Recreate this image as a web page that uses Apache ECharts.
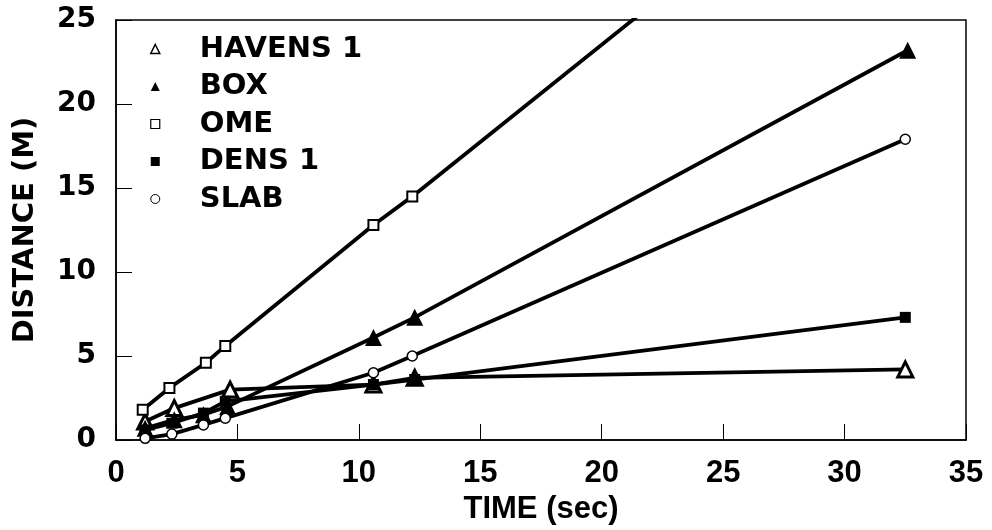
<!DOCTYPE html>
<html>
<head>
<meta charset="utf-8">
<script src="https://cdn.jsdelivr.net/npm/echarts@6/dist/echarts.min.js"></script>
<style>html,body{margin:0;padding:0;background:#fff}#c{width:992px;height:530px}</style>
</head>
<body>
<div id="c"></div>
<script>
// Data: [time (sec), distance (m)]
const seriesNames = ['HAVENS 1', 'BOX', 'OME', 'DENS 1', 'SLAB'];
const havens1 = [[1.2, 1.1], [2.4, 1.9], [4.7, 3.0], [10.6, 3.3], [12.3, 3.7], [32.5, 4.2]];
const box = [[1.2, 0.7], [2.4, 1.2], [3.6, 1.5], [4.6, 2.0], [10.6, 6.1], [12.3, 7.3], [32.6, 23.2]];
const ome = [[1.1, 1.8], [2.2, 3.1], [3.7, 4.6], [4.5, 5.6], [10.6, 12.8], [12.2, 14.5], [32.5, 38.0]];
const dens1 = [[1.2, 0.6], [2.3, 1.0], [3.6, 1.6], [4.5, 2.3], [10.6, 3.3], [12.3, 3.6], [32.5, 7.3]];
const slab = [[1.2, 0.1], [2.3, 0.35], [3.6, 0.9], [4.5, 1.3], [10.6, 4.0], [12.2, 5.0], [32.5, 17.9]];
const xTicks = [0, 5, 10, 15, 20, 25, 30, 35];
const yTicks = [0, 5, 10, 15, 20, 25];

const boldFont = 'DejaVu Sans';
const narrowFont = '"Liberation Sans Narrow", "Liberation Sans", Arial, sans-serif';

function mk(name, data, symbol, size, filled, bw) {
  return {
    name: name, type: 'line', data: data, symbol: symbol, symbolSize: size,
    showAllSymbol: true, clip: true,
    lineStyle: { color: '#000', width: 3.8 },
    itemStyle: { color: filled ? '#000' : '#fff', borderColor: '#000', borderWidth: bw },
    emphasis: { disabled: true }
  };
}

const chart = echarts.init(document.getElementById('c'), null, { renderer: 'canvas' });
chart.setOption({
  animation: false,
  backgroundColor: '#fff',
  grid: { left: 116, right: 26, top: 20, bottom: 84, show: true, borderColor: '#000', borderWidth: 1.5, backgroundColor: 'transparent' },
  legend: {
    orient: 'vertical', left: 150, top: 34, padding: 0, itemGap: 7.5,
    itemWidth: 9, itemHeight: 9,
    textStyle: { fontFamily: boldFont, fontWeight: 'bold', fontSize: 29, color: '#000', lineHeight: 30, padding: [0, 0, 0, 35] },
    data: [
      { name: 'HAVENS 1', icon: 'triangle', itemStyle: { color: '#fff', borderColor: '#000', borderWidth: 1.5 } },
      { name: 'BOX', icon: 'triangle', itemStyle: { color: '#000', borderColor: '#000', borderWidth: 0 } },
      { name: 'OME', icon: 'rect', itemStyle: { color: '#fff', borderColor: '#000', borderWidth: 1.2 } },
      { name: 'DENS 1', icon: 'rect', itemStyle: { color: '#000', borderColor: '#000', borderWidth: 0 } },
      { name: 'SLAB', icon: 'circle', itemStyle: { color: '#fff', borderColor: '#000', borderWidth: 1 } }
    ]
  },
  xAxis: {
    type: 'value', min: 0, max: 35, interval: 5,
    name: 'TIME (sec)', nameLocation: 'middle', nameGap: 54,
    nameTextStyle: { fontFamily: narrowFont, fontWeight: 'bold', fontSize: 31, color: '#000' },
    axisLine: { lineStyle: { color: '#000', width: 1.5 } },
    axisTick: { inside: true, length: 16, lineStyle: { color: '#000', width: 1 } },
    axisLabel: { margin: 18, fontFamily: narrowFont, fontWeight: 'bold', fontSize: 31, color: '#000',
      formatter: v => (xTicks.indexOf(v) >= 0 ? String(v) : '') },
    splitLine: { show: false }
  },
  yAxis: {
    type: 'value', min: 0, max: 25, interval: 5,
    name: 'DISTANCE (M)', nameLocation: 'middle', nameGap: 76,
    nameTextStyle: { fontFamily: boldFont, fontWeight: 'bold', fontSize: 29, color: '#000' },
    axisLine: { lineStyle: { color: '#000', width: 1.5 } },
    axisTick: { inside: true, length: 16, lineStyle: { color: '#000', width: 1 } },
    axisLabel: { margin: 20, fontFamily: boldFont, fontWeight: 'bold', fontSize: 28, color: '#000',
      formatter: v => (yTicks.indexOf(v) >= 0 ? String(v) : '') },
    splitLine: { show: false }
  },
  series: [
    mk('HAVENS 1', havens1, 'triangle', 15, false, 3),
    mk('BOX', box, 'triangle', 17, true, 0),
    mk('OME', ome, 'rect', 10, false, 2),
    mk('DENS 1', dens1, 'rect', 11, true, 0),
    mk('SLAB', slab, 'circle', 10, false, 1.5)
  ]
});
</script>
</body>
</html>
